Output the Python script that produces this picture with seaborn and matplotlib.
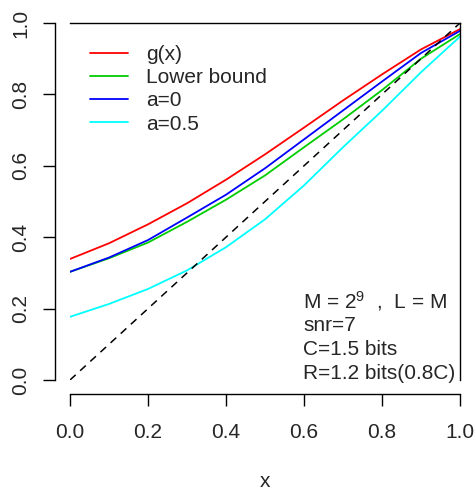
import matplotlib
matplotlib.use("Agg")
import matplotlib.pyplot as plt
import pandas as pd
import numpy as np
import seaborn as sns

# values
x_vals = [0.0, 0.1, 0.2, 0.3, 0.4, 0.5, 0.6, 0.7, 0.8, 0.9, 1.0]
g_x = [0.339, 0.383, 0.436, 0.495, 0.561, 0.632, 0.707, 0.783, 0.856, 0.926, 0.983]
lower_bound = [0.303, 0.341, 0.385, 0.443, 0.505, 0.573, 0.652, 0.730, 0.812, 0.900, 0.969]
a_0 = [0.303, 0.343, 0.392, 0.455, 0.519, 0.593, 0.674, 0.755, 0.836, 0.916, 0.978]
a_05 = [0.177, 0.213, 0.255, 0.307, 0.372, 0.450, 0.545, 0.652, 0.754, 0.862, 0.962]
diag = [0.0, 1.0]

labels = ["g(x)", "Lower bound", "a=0", "a=0.5"]
colors = ["#FF0000", "#00CD00", "#0000FF", "#00FFFF"]
info_lines = [r"M = 2$^{9}$  ,  L = M", "snr=7", "C=1.5 bits", "R=1.2 bits(0.8C)"]

df = pd.DataFrame({
    "x": x_vals * 4,
    "y": g_x + lower_bound + a_0 + a_05,
    "curve": sum([[lab] * len(x_vals) for lab in labels], []),
})

sns.set_style("ticks")
plt.rcParams['font.family'] = ['Liberation Sans', 'DejaVu Sans']
plt.rcParams['mathtext.fontset'] = 'custom'
plt.rcParams['mathtext.rm'] = 'Liberation Sans'
plt.rcParams['mathtext.it'] = 'Liberation Sans'

fig = plt.figure(figsize=(4.75, 4.9), dpi=100)
ax = fig.add_axes([70/475, 110/490, 390/475, 357/490])

sns.lineplot(data=df, x="x", y="y", hue="curve", palette=dict(zip(labels, colors)),
             hue_order=labels, linewidth=1.3, ax=ax, legend=True)
ax.plot(diag, diag, color="black", linestyle=(0, (5, 4)), linewidth=1.1)

ax.set_xlim(0, 1)
ax.set_ylim(0, 1)
ax.set_xticks([0, 0.2, 0.4, 0.6, 0.8, 1.0])
ax.set_yticks([0, 0.2, 0.4, 0.6, 0.8, 1.0])
ax.set_xticklabels(["0.0", "0.2", "0.4", "0.6", "0.8", "1.0"])
ax.set_yticklabels(["0.0", "0.2", "0.4", "0.6", "0.8", "1.0"])

for side in ["left", "bottom", "top", "right"]:
    ax.spines[side].set_visible(True)
    ax.spines[side].set_color("black")
    ax.spines[side].set_linewidth(1.0)
ax.spines["left"].set_position(("outward", 11))
ax.spines["bottom"].set_position(("outward", 10))
ax.spines["left"].set_bounds(0, 1)
ax.spines["bottom"].set_bounds(0, 1)

ax.tick_params(axis="both", length=8.6, width=1.0, labelsize=15, color="black")
ax.tick_params(axis="y", pad=9, labelrotation=90)
ax.tick_params(axis="x", pad=12)
for lab in ax.get_yticklabels():
    lab.set_verticalalignment("center")
ax.set_xlabel("x", fontsize=15, labelpad=22)
ax.set_ylabel("")

handles, labs = ax.get_legend_handles_labels()
ax.legend(handles[:4], labs[:4], loc="upper left", bbox_to_anchor=(90/475, 1 - 45/490),
          bbox_transform=fig.transFigure, frameon=False, fontsize=15,
          handlelength=1.8, handletextpad=0.9, labelspacing=0.2, borderpad=0, borderaxespad=0)

for i, line in enumerate(info_lines):
    fig.text(303/475, 1 - (301 + 24.2*i)/490, line, fontsize=15, va="center", ha="left")

fig.savefig("out.png", dpi=100)
